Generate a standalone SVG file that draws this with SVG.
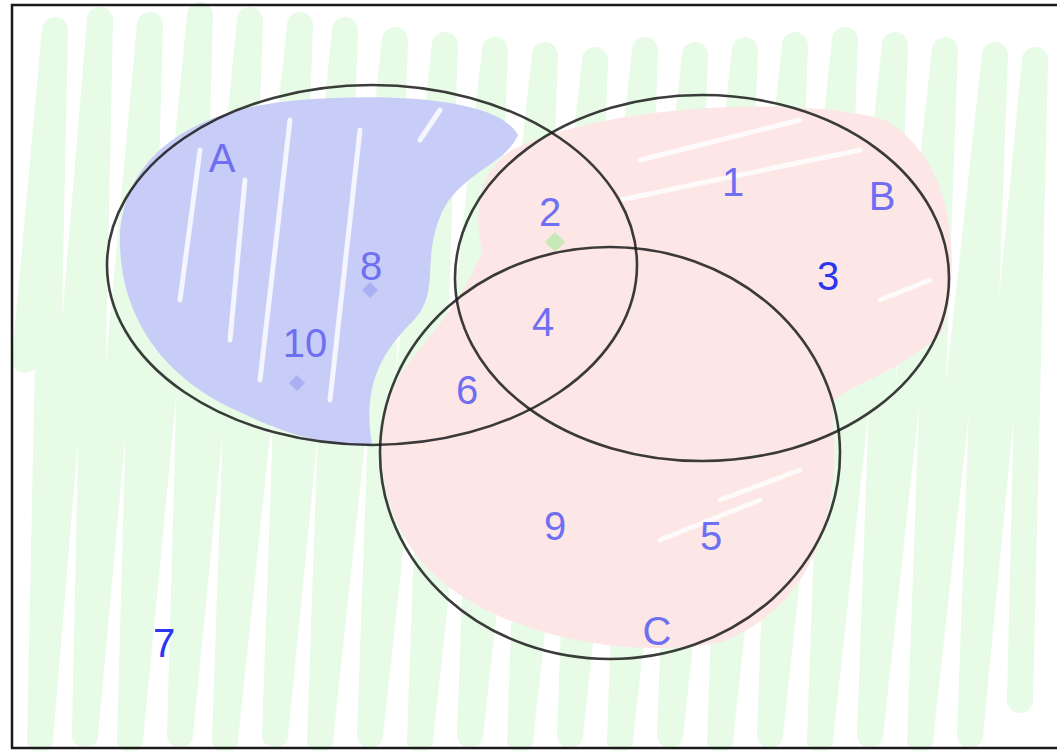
<svg xmlns="http://www.w3.org/2000/svg" width="1057" height="751" viewBox="0 0 1057 751">
<style>
.set{fill:none;stroke:#1a1a1a;stroke-width:2.6;stroke-opacity:0.85}
.lbl{font-family:"Liberation Sans",Arial,sans-serif;fill:#6f6ff2;font-size:40px;text-anchor:middle}
.dark{fill:#2a36f0}
.gr{fill:none;stroke:#e7fbe7;stroke-width:26;stroke-linejoin:round;stroke-linecap:round}
</style>
<rect x="0" y="0" width="1057" height="751" fill="#ffffff"/>
<g id="scribbles">
<path class="gr" d="M25,360 L55,30 L40,740 L100,20 L85,735 L150,25 L130,740 L200,15 L180,735 L250,20 L225,740 L300,25 L275,735 L345,30 L320,740 L395,40 L370,735 L445,45 L420,740 L495,50 L470,735 L545,55 L520,740 L595,60 L570,735 L645,50 L620,740 L695,55 L670,735 L745,50 L720,740 L795,45 L770,735 L845,40 L820,740 L895,45 L870,735 L945,50 L920,740 L995,55 L970,735 L1035,60 L1020,700"/>
<path d="M120,235 C125,150 200,108 300,100 C400,92 500,100 518,135 C505,165 462,172 442,212 C420,262 442,292 412,322 C382,352 362,385 372,445 C330,448 280,432 240,412 C170,382 118,322 120,235 Z" fill="#c8cdf7"/>
<path d="M512,150 C600,105 800,95 885,120 C955,160 962,262 942,332 C902,372 852,382 832,402 C842,502 822,602 722,642 C622,662 482,632 422,562 C372,502 372,422 402,372 C432,332 462,302 482,252 C472,202 482,170 512,150 Z" fill="#fde6e6"/>
<path d="M180,300 L200,150 M260,380 L290,120 M330,400 L360,130 M230,340 L245,180 M420,140 L440,110 M640,160 L800,120 M620,200 L860,150 M720,500 L800,470 M660,540 L760,500 M880,300 L930,280" fill="none" stroke="#ffffff" stroke-width="5" stroke-linecap="round" opacity="0.8"/>
<path d="M555,232 L565,242 L555,252 L545,242 Z" fill="#c8e8b8"/>
<path d="M370,282 L378,290 L370,298 L362,290 Z" fill="#a9b0f3"/>
<path d="M297,375 L305,383 L297,391 L289,383 Z" fill="#a9b0f3"/>
</g>
<rect x="12" y="5" width="1060" height="743" fill="none" stroke="#1a1a1a" stroke-width="2.5"/>
<g id="setA"><ellipse class="set" cx="372" cy="265" rx="265" ry="180"/></g>
<g id="setB"><ellipse class="set" cx="702" cy="278" rx="247" ry="183"/></g>
<g id="setC"><ellipse class="set" cx="610" cy="453" rx="230" ry="206"/></g>
<g id="labels">
<text class="lbl" x="222" y="172">A</text>
<text class="lbl" x="371" y="280">8</text>
<text class="lbl" x="305" y="357" font-size="34">10</text>
<text class="lbl" x="550" y="226">2</text>
<text class="lbl" x="733" y="196">1</text>
<text class="lbl" x="882" y="210">B</text>
<text class="lbl dark" x="828" y="290">3</text>
<text class="lbl" x="543" y="336">4</text>
<text class="lbl" x="467" y="404">6</text>
<text class="lbl" x="555" y="540">9</text>
<text class="lbl" x="711" y="550">5</text>
<text class="lbl" x="657" y="645">C</text>
<text class="lbl dark" x="164" y="657">7</text>
</g>
</svg>
